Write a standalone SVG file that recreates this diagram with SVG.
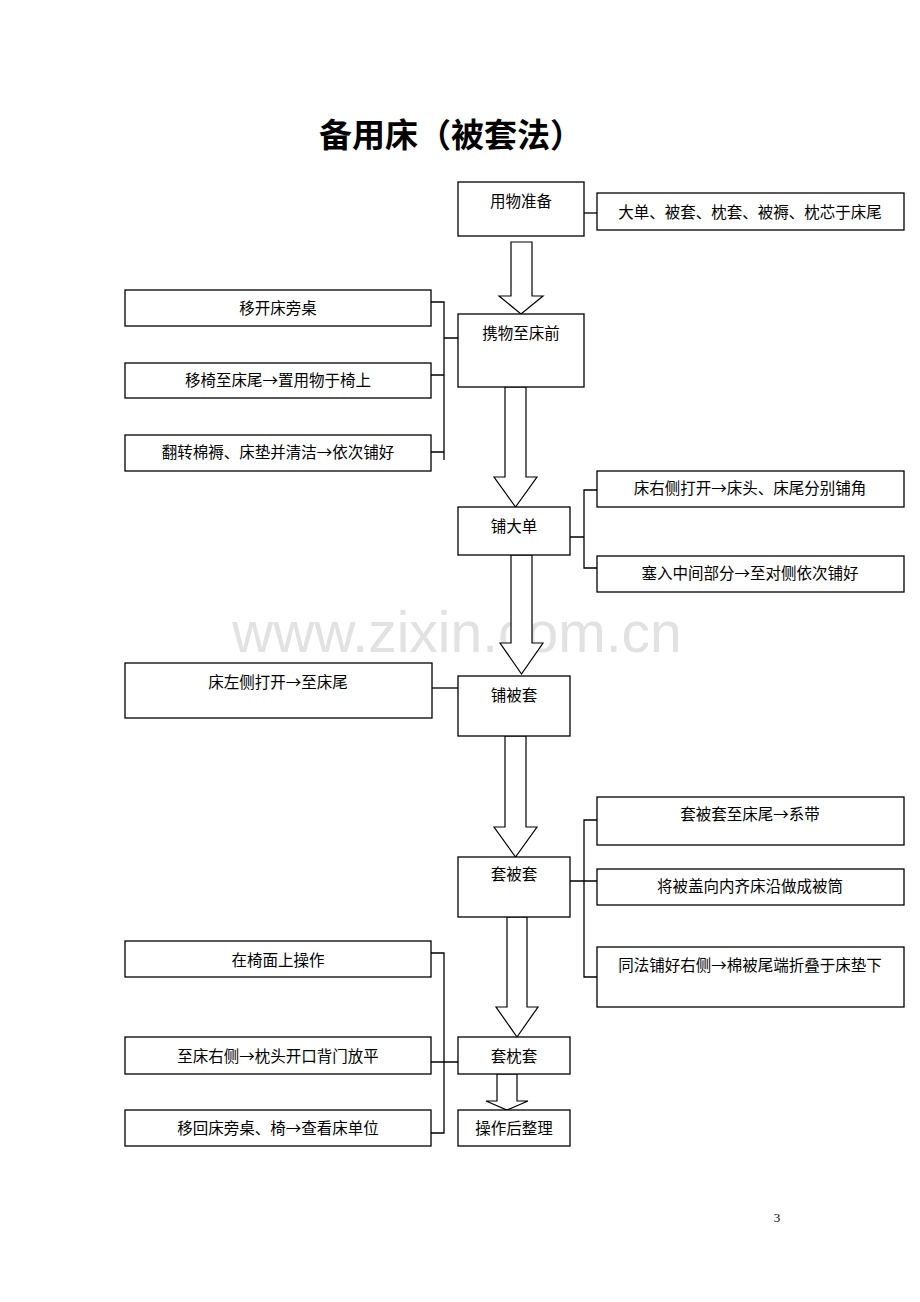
<svg xmlns="http://www.w3.org/2000/svg" width="920" height="1302" viewBox="0 0 920 1302">
<style>
.box{fill:#fff;stroke:#000;stroke-width:1.3}
.arr{fill:#fff;stroke:#000;stroke-width:1.2;stroke-linejoin:miter}
.ln{fill:none;stroke:#000;stroke-width:1.3}
text{font-family:"Noto Sans CJK SC","Liberation Sans",sans-serif;font-size:15.5px;fill:#000;text-anchor:middle}
.title{font-size:33px;font-weight:bold}
.wm{font-family:"Liberation Sans",Arial,sans-serif;font-size:57px;fill:#e2e2e2;text-anchor:start}
.pg{font-family:"Liberation Serif",serif;font-size:13px}
</style>
<rect width="920" height="1302" fill="#fff"/>
<text class="wm" x="232" y="652">www.zixin.com.cn</text>
<text class="title" x="451" y="147">备用床（被套法）</text>

<g id="connectors">
<polygon class="arr" points="511,242 532,242 532,296 543,296 521,314 499,296 511,296"/>
<polygon class="arr" points="505,387 526,387 526,477 537,477 515.5,507 494,477 505,477"/>
<polygon class="arr" points="511,555 532,555 532,643 543,643 521.5,674 500,643 511,643"/>
<polygon class="arr" points="505,736 526,736 526,827 537,827 515.5,857 494,827 505,827"/>
<polygon class="arr" points="507,917 527,917 527,1007 538,1007 517,1037 496,1007 507,1007"/>
<polygon class="arr" points="497,1074 517,1074 517,1101 528,1101 507,1110 486,1101 497,1101"/>
<path class="ln" d="M584,213H597"/>
<path class="ln" d="M431,302H444V460M431,375H444M431,452H444M444,338H458"/>
<path class="ln" d="M597,490H584V568H597M570,537H584"/>
<path class="ln" d="M432,688H458"/>
<path class="ln" d="M597,820H584V977H597M570,881H597"/>
<path class="ln" d="M431,953H444V1133H431M431,1062H458"/>
</g>

<g id="n-prep"><rect class="box" x="458" y="182" width="126" height="54"/><text x="521" y="207">用物准备</text></g>
<g id="n-prep-note"><rect class="box" x="597" y="193" width="307" height="37"/><text x="750" y="218">大单、被套、枕套、被褥、枕芯于床尾</text></g>
<g id="n-carry"><rect class="box" x="458" y="314" width="126" height="73"/><text x="521" y="339">携物至床前</text></g>
<g id="n-l1"><rect class="box" x="125" y="290" width="306" height="36"/><text x="278" y="314">移开床旁桌</text></g>
<g id="n-l2"><rect class="box" x="125" y="363" width="306" height="35"/><text x="278" y="386">移椅至床尾→置用物于椅上</text></g>
<g id="n-l3"><rect class="box" x="125" y="435" width="306" height="36"/><text x="278" y="458">翻转棉褥、床垫并清洁→依次铺好</text></g>
<g id="n-sheet"><rect class="box" x="458" y="507" width="112" height="48"/><text x="514" y="532">铺大单</text></g>
<g id="n-r1"><rect class="box" x="597" y="471" width="307" height="36"/><text x="750" y="494">床右侧打开→床头、床尾分别铺角</text></g>
<g id="n-r2"><rect class="box" x="597" y="556" width="307" height="36"/><text x="750" y="579">塞入中间部分→至对侧依次铺好</text></g>
<g id="n-quilt"><rect class="box" x="458" y="676" width="112" height="60"/><text x="514" y="701">铺被套</text></g>
<g id="n-l4"><rect class="box" x="125" y="663" width="307" height="55"/><text x="278" y="688">床左侧打开→至床尾</text></g>
<g id="n-cover"><rect class="box" x="458" y="857" width="112" height="60"/><text x="514" y="880">套被套</text></g>
<g id="n-r3"><rect class="box" x="597" y="797" width="307" height="48"/><text x="750" y="820">套被套至床尾→系带</text></g>
<g id="n-r4"><rect class="box" x="597" y="869" width="307" height="36"/><text x="750" y="892">将被盖向内齐床沿做成被筒</text></g>
<g id="n-r5"><rect class="box" x="597" y="947" width="307" height="60"/><text x="750" y="971">同法铺好右侧→棉被尾端折叠于床垫下</text></g>
<g id="n-pillow"><rect class="box" x="458" y="1037" width="112" height="37"/><text x="514" y="1062">套枕套</text></g>
<g id="n-final"><rect class="box" x="458" y="1110" width="112" height="36"/><text x="514" y="1134">操作后整理</text></g>
<g id="n-l5"><rect class="box" x="125" y="941" width="306" height="36"/><text x="278" y="966">在椅面上操作</text></g>
<g id="n-l6"><rect class="box" x="125" y="1037" width="306" height="37"/><text x="278" y="1062">至床右侧→枕头开口背门放平</text></g>
<g id="n-l7"><rect class="box" x="125" y="1110" width="306" height="36"/><text x="278" y="1134">移回床旁桌、椅→查看床单位</text></g>
<text class="pg" x="777" y="1222">3</text>
</svg>
